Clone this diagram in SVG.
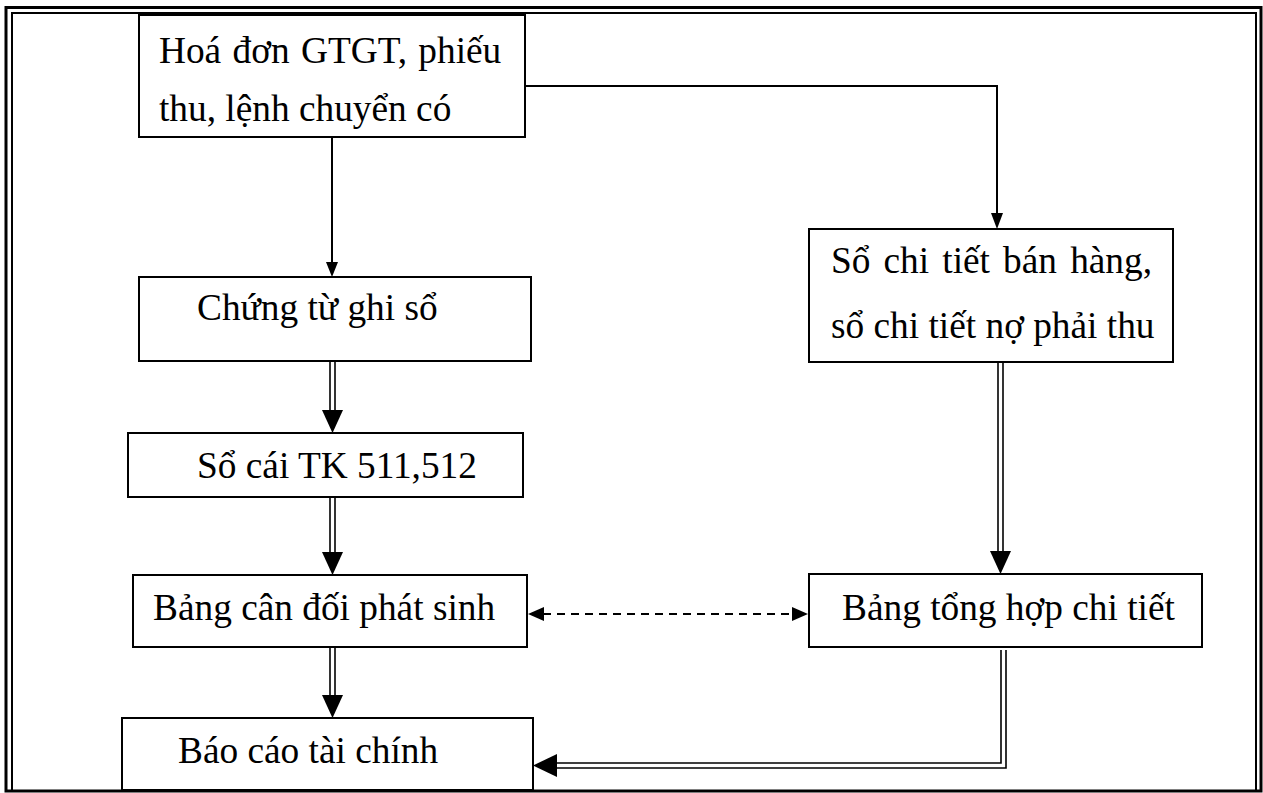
<svg xmlns="http://www.w3.org/2000/svg" width="1263" height="793" viewBox="0 0 1263 793">
<style>
.frame{fill:none;stroke:#000;stroke-width:2}
.frame.outer{stroke-width:3}
.box{fill:#fff;stroke:#000;stroke-width:2}
.t{font-family:"Liberation Serif","Times New Roman",serif;font-size:37.33px;fill:#000}
.ln{fill:none;stroke:#000;stroke-width:2}
.dl{fill:none;stroke:#000;stroke-width:1.6}
.dash{fill:none;stroke:#000;stroke-width:2;stroke-dasharray:8 6}
.hd{fill:#000;stroke:none}
</style>
<rect width="1263" height="793" fill="#fff"/>
<g id="frame">
<rect class="frame outer" x="6" y="7.5" width="1255" height="783.5"/>
<rect class="frame" x="12" y="13" width="1244" height="778"/>
</g>
<g id="connectors">
<line class="ln" x1="332" y1="137" x2="332" y2="264"/>
<polygon class="hd" points="326,262 338,262 332,277"/>
<polyline class="ln" points="525,86 997,86 997,215"/>
<polygon class="hd" points="991,213 1003,213 997,229"/>
<line class="dl" x1="330" y1="361" x2="330" y2="412"/>
<line class="dl" x1="335" y1="361" x2="335" y2="412"/>
<polygon class="hd" points="322,410 343,410 332.5,433"/>
<line class="dl" x1="330" y1="497" x2="330" y2="554"/>
<line class="dl" x1="335" y1="497" x2="335" y2="554"/>
<polygon class="hd" points="322,552 343,552 332.5,575"/>
<line class="dl" x1="330" y1="647" x2="330" y2="697"/>
<line class="dl" x1="335" y1="647" x2="335" y2="697"/>
<polygon class="hd" points="322,695 343,695 332.5,718"/>
<line class="dl" x1="998" y1="362" x2="998" y2="553"/>
<line class="dl" x1="1003" y1="362" x2="1003" y2="553"/>
<polygon class="hd" points="990,551 1011,551 1000.5,574"/>
<polyline class="dl" points="1001,650 1001,763 555,763"/>
<polyline class="dl" points="1006,650 1006,768 555,768"/>
<polygon class="hd" points="533,765.5 557,754 557,777"/>
<line class="dash" x1="543" y1="614" x2="793" y2="614"/>
<polygon class="hd" points="528,614 544,607 544,621"/>
<polygon class="hd" points="808,614 792,607 792,621"/>
</g>
<g id="n1">
<rect class="box" x="139" y="15" width="386" height="122"/>
<text class="t" x="159" y="63" word-spacing="2">Hoá đơn GTGT, phiếu</text>
<text class="t" x="159" y="121">thu, lệnh chuyển có</text>
</g>
<g id="n2">
<rect class="box" x="139" y="277" width="392" height="84"/>
<text class="t" x="197" y="320">Chứng từ ghi sổ</text>
</g>
<g id="n3">
<rect class="box" x="128" y="433" width="395" height="64"/>
<text class="t" x="197" y="478">Sổ cái TK 511,512</text>
</g>
<g id="n4">
<rect class="box" x="133" y="575" width="394" height="72"/>
<text class="t" x="153" y="620">Bảng cân đối phát sinh</text>
</g>
<g id="n5">
<rect class="box" x="122" y="718" width="411" height="72"/>
<text class="t" x="178" y="763">Báo cáo tài chính</text>
</g>
<g id="n6">
<rect class="box" x="809" y="229" width="364" height="133"/>
<text class="t" x="831" y="273" word-spacing="3.8">Sổ chi tiết bán hàng,</text>
<text class="t" x="831" y="338">sổ chi tiết nợ phải thu</text>
</g>
<g id="n7">
<rect class="box" x="809" y="574" width="393" height="73"/>
<text class="t" x="842" y="620">Bảng tổng hợp chi tiết</text>
</g>
</svg>
